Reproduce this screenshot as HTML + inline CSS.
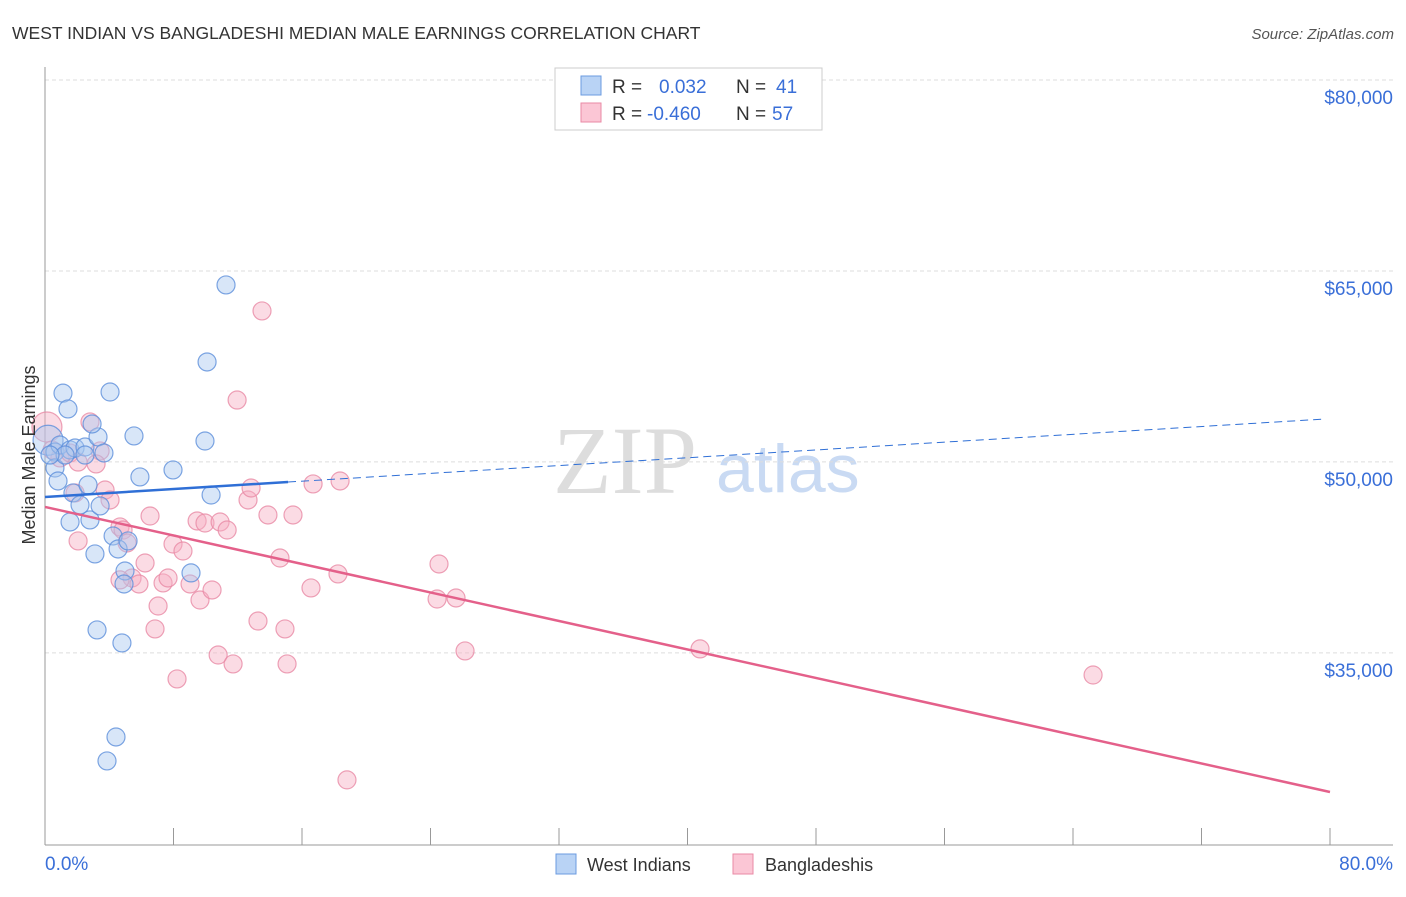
<!DOCTYPE html>
<html><head><meta charset="utf-8"><style>
body{margin:0;background:#fff;width:1406px;height:892px;overflow:hidden;font-family:"Liberation Sans",sans-serif}
</style></head><body>
<svg width="1406" height="892" xmlns="http://www.w3.org/2000/svg">
<text x="12" y="39" font-size="17.5" fill="#333">WEST INDIAN VS BANGLADESHI MEDIAN MALE EARNINGS CORRELATION CHART</text>
<text x="1394" y="39" font-size="15" fill="#555" font-style="italic" text-anchor="end">Source: ZipAtlas.com</text>
<g>
<text x="553" y="493" font-size="96" font-family="Liberation Serif,serif" fill="#ddd">ZIP</text>
<text x="716" y="492" font-size="68" fill="#c9daf3">atlas</text>
</g>
<g id="grid"></g>
<g id="axes"></g>
<g id="marks"></g>
<g id="trend"></g>
<g>
<rect x="555" y="68" width="267" height="62" fill="#fff" stroke="#ccc"/>
<rect x="581" y="76" width="20" height="19" fill="#b9d3f5" stroke="#6b9be0"/>
<rect x="581" y="103" width="20" height="19" fill="#fbc6d5" stroke="#e98aa5"/>
<text x="612" y="93" font-size="19" fill="#333">R =</text>
<text x="659" y="93" font-size="19" fill="#3a6fd8">0.032</text>
<text x="736" y="93" font-size="19" fill="#333">N =</text>
<text x="776" y="93" font-size="19" fill="#3a6fd8">41</text>
<text x="612" y="120" font-size="19" fill="#333">R =</text>
<text x="647" y="120" font-size="19" fill="#3a6fd8">-0.460</text>
<text x="736" y="120" font-size="19" fill="#333">N =</text>
<text x="772" y="120" font-size="19" fill="#3a6fd8">57</text>
</g>
<g>
<rect x="556" y="854" width="20" height="20" fill="#b9d3f5" stroke="#6b9be0"/>
<text x="587" y="871" font-size="18" fill="#333">West Indians</text>
<rect x="733" y="854" width="20" height="20" fill="#fbc6d5" stroke="#e98aa5"/>
<text x="765" y="871" font-size="18" fill="#333">Bangladeshis</text>
</g>
<text transform="translate(35,455) rotate(-90)" font-size="18" fill="#333" text-anchor="middle">Median Male Earnings</text>
</svg>
<script>
const yTicks=[35000,50000,65000,80000];
const yTickLabels=["$35,000","$50,000","$65,000","$80,000"];
const xTicks=[0,8,16,24,32,40,48,56,64,72,80];
const xEndLabels=["0.0%","80.0%"];
const blueX=[0.19,0.62,1.12,1.43,0.93,1.56,1.87,0.62,0.81,1.74,2.18,1.56,2.80,2.49,3.30,2.93,4.05,5.54,3.43,4.24,4.55,5.17,4.98,4.92,3.11,3.24,4.79,5.91,7.97,9.96,10.34,10.09,11.27,9.09,4.42,3.86,2.49,1.25,0.31,2.68,3.67];
const blueY=[51700,50780,55400,54160,51330,50940,51090,49520,48500,47560,46620,45280,45440,51170,51960,52980,55490,52040,46540,44180,43160,43790,41430,40410,42770,36800,35780,48820,49370,51640,47400,57850,63900,41280,28390,26510,50540,50540,50540,48190,50700];
const pinkX=[0.12,0.44,0.93,1.56,2.06,2.80,3.43,3.18,3.74,4.05,2.06,1.87,4.67,4.86,5.11,5.42,5.85,6.23,6.54,7.04,6.85,7.35,7.66,8.22,7.97,8.59,9.03,9.47,9.65,9.96,10.40,10.78,10.90,11.34,11.71,11.96,12.64,12.83,13.26,13.51,13.88,14.63,14.94,15.07,15.44,16.56,16.69,18.24,18.37,18.80,24.41,24.53,25.59,26.15,40.78,65.25,4.67];
const pinkY=[52740,50940,50310,50700,49990,53140,50860,49840,47790,47010,43790,47560,44890,44650,43630,40880,40410,42060,45750,38680,36880,40490,40880,32950,43550,43000,40410,45360,39150,45200,39940,34830,45280,44650,34130,54860,47010,47950,37500,61860,45830,42450,36880,34130,45830,40100,48270,41200,48500,25020,39230,41980,39310,35150,35310,33260,40730];
const blueTrendX=[0,15.13,79.7];
const blueTrendY=[47245,48420,53370];
const pinkTrendX=[0,80];
const pinkTrendY=[46460,24070];

const NS="http://www.w3.org/2000/svg";
function sx(v){return 45+v/80*1285;}
function sy(v){return 80+(80000-v)/1000*12.73;}
function mk(tag,attrs,parent){const e=document.createElementNS(NS,tag);for(const k in attrs)e.setAttribute(k,attrs[k]);parent.appendChild(e);return e;}
const grid=document.getElementById('grid'),axes=document.getElementById('axes'),marks=document.getElementById('marks'),trend=document.getElementById('trend');
yTicks.forEach((t,i)=>{
 const l=mk('line',{x1:45,x2:1393,y1:sy(t),y2:sy(t),stroke:'#ddd','stroke-dasharray':'4,3'},grid);
 
 
 const tx=mk('text',{x:1393,y:sy(t)+24,'font-size':19,fill:'#3a6fd8','text-anchor':'end'},axes);
 tx.textContent=yTickLabels[i];
 
 
});
const ya=mk('line',{x1:45,x2:45,y1:67,y2:845,stroke:'#999'},axes);


const xa=mk('line',{x1:45,x2:1393,y1:845,y2:845,stroke:'#999'},axes);


xTicks.forEach(t=>{
 const l=mk('line',{x1:sx(t),x2:sx(t),y1:828,y2:845,stroke:'#999'},axes);
 
 
});
const xl0=mk('text',{x:45,y:870,'font-size':19,fill:'#3a6fd8'},axes);
xl0.textContent=xEndLabels[0];


const xl1=mk('text',{x:1393,y:870,'font-size':19,fill:'#3a6fd8','text-anchor':'end'},axes);
xl1.textContent=xEndLabels[1];



function pts(X,Y,fill,stroke,name){
 X.forEach((x,i)=>{
  const r=(i===0)?15:9;
  const c=mk('circle',{cx:sx(x),cy:sy(Y[i]),r:r,fill:fill,'fill-opacity':0.45,stroke:stroke,'stroke-width':1.2,'stroke-opacity':0.8},marks);
  
  
 });
}
pts(pinkX,pinkY,'#f7b0c4','#e98aa5','bangladeshi-point');
pts(blueX,blueY,'#a9c8f0','#5d8fdb','west-indian-point');

const b1=mk('line',{x1:sx(blueTrendX[0]),y1:sy(blueTrendY[0]),x2:sx(blueTrendX[1]),y2:sy(blueTrendY[1]),stroke:'#2f6fd6','stroke-width':2.5},trend);


const b2=mk('line',{x1:sx(blueTrendX[1]),y1:sy(blueTrendY[1]),x2:sx(blueTrendX[2]),y2:sy(blueTrendY[2]),stroke:'#2f6fd6','stroke-width':1,'stroke-dasharray':'8,5'},trend);


const p1=mk('line',{x1:sx(pinkTrendX[0]),y1:sy(pinkTrendY[0]),x2:sx(pinkTrendX[1]),y2:sy(pinkTrendY[1]),stroke:'#e4608a','stroke-width':2.5},trend);


</script>
</body></html>
